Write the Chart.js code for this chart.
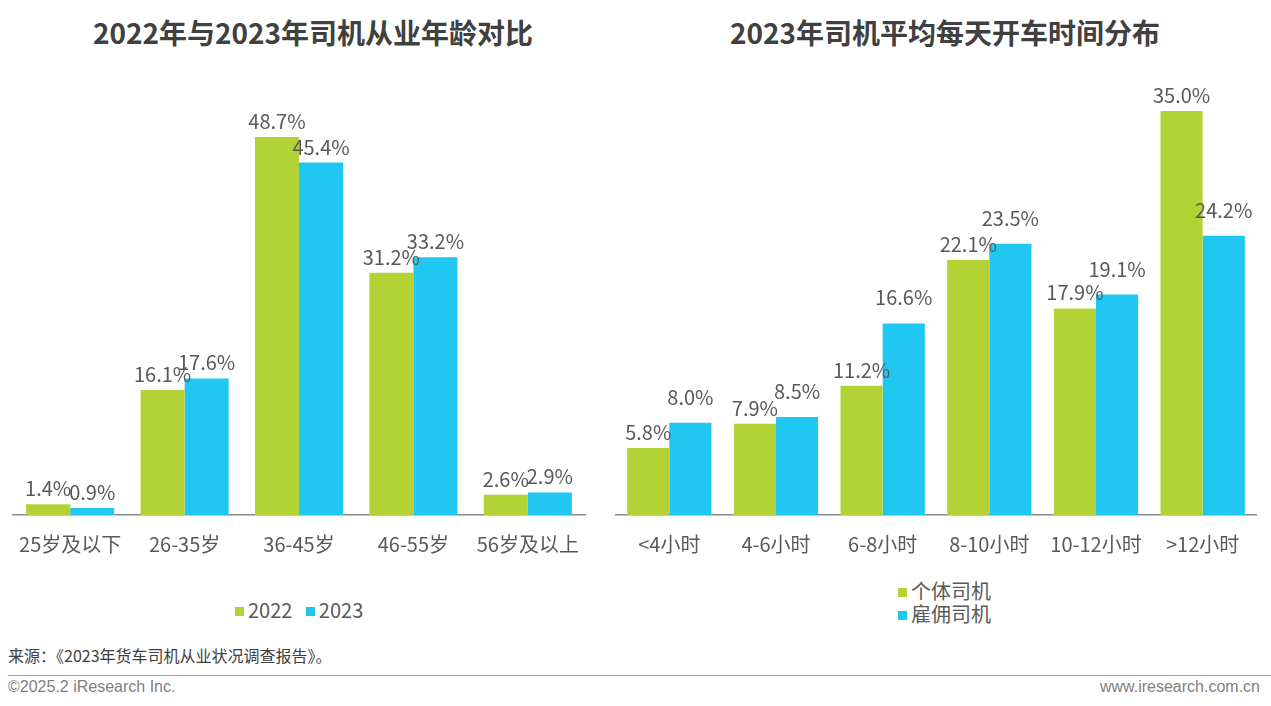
<!DOCTYPE html>
<html>
<head>
<meta charset="utf-8">
<script src="https://cdn.jsdelivr.net/npm/chart.js@4/dist/chart.umd.min.js"></script>
<style>
  html, body { margin:0; padding:0; background:#fff; }
  body { width:1271px; height:706px; position:relative; overflow:hidden; font-family:"Noto Sans CJK SC","Noto Sans",sans-serif; }
  .title { position:absolute; top:12px; font-size:28px; font-weight:bold; color:#404040; text-align:center; white-space:nowrap; }
  .cv { position:absolute; top:0; }
  .legend { position:absolute; font-size:20px; color:#595959; white-space:nowrap; line-height:23px; }
  .legend span.sw { display:inline-block; width:9px; height:9px; margin-right:4px; vertical-align:middle; position:relative; top:-1px; }
  .src { position:absolute; left:8px; top:643px; font-size:16px; color:#404040; }
  .rule { position:absolute; left:8px; right:0; top:675px; height:0; border-top:1.5px solid #a6a6a6; }
  .foot { position:absolute; top:678px; font-size:16px; color:#7f7f7f; font-family:"Liberation Sans",Arial,sans-serif; }
</style>
</head>
<body>
<div class="title" style="left:13px;width:600px;">2022年与2023年司机从业年龄对比</div>
<div class="title" style="left:630px;width:630px;">2023年司机平均每天开车时间分布</div>
<canvas id="c1" class="cv" style="left:0;" width="620" height="565"></canvas>
<canvas id="c2" class="cv" style="left:600px;" width="671" height="565"></canvas>
<div class="legend" style="left:235px;top:598px;"><span class="sw" style="background:#B2D235"></span>2022&nbsp;&nbsp;&nbsp;<span class="sw" style="background:#1FC7F1"></span>2023</div>
<div class="legend" style="left:898px;top:579px;"><span class="sw" style="background:#B2D235"></span>个体司机<br><span class="sw" style="background:#1FC7F1"></span>雇佣司机</div>
<div class="src">来源：《2023年货车司机从业状况调查报告》。</div>
<div class="rule"></div>
<div class="foot" style="left:8px;">©2025.2 iResearch Inc.</div>
<div class="foot" style="right:11px;">www.iresearch.com.cn</div>
<script>
const ageCategories = ["25岁及以下","26-35岁","36-45岁","46-55岁","56岁及以上"];
const age2022 = [1.4, 16.1, 48.7, 31.2, 2.6];
const age2023 = [0.9, 17.6, 45.4, 33.2, 2.9];
const hourCategories = ["<4小时","4-6小时","6-8小时","8-10小时","10-12小时",">12小时"];
const selfDrivers = [5.8, 7.9, 11.2, 22.1, 17.9, 35.0];
const hiredDrivers = [8.0, 8.5, 16.6, 23.5, 19.1, 24.2];

const GREEN = "#B2D235", BLUE = "#1FC7F1";
const FONT = '"Noto Sans CJK SC","Noto Sans",sans-serif';

const labelPlugin = {
  id: "barLabels",
  afterDatasetsDraw(chart) {
    const ctx = chart.ctx;
    ctx.save();
    ctx.font = "20px " + FONT;
    ctx.fillStyle = "#595959";
    ctx.textAlign = "center";
    ctx.textBaseline = "alphabetic";
    chart.data.datasets.forEach((ds, i) => {
      const meta = chart.getDatasetMeta(i);
      const off = ds.labelOffset || 8;
      meta.data.forEach((bar, j) => {
        ctx.fillText(ds.data[j].toFixed(1) + "%", bar.x, bar.y - off);
      });
    });
    ctx.restore();
  }
};

function makeChart(id, cats, sets, yMax, pad, catPct) {
  return new Chart(document.getElementById(id), {
    type: "bar",
    data: { labels: cats, datasets: sets },
    options: {
      responsive: false,
      animation: false,
      layout: { padding: pad },
      plugins: { legend: { display: false }, tooltip: { enabled: false } },
      datasets: { bar: { categoryPercentage: catPct, barPercentage: 1.0 } },
      scales: {
        x: {
          grid: { display: false, drawTicks: false },
          border: { display: true, color: "#8c8c8c", width: 1.5 },
          ticks: { color: "#595959", font: { size: 20, family: FONT }, padding: 17, maxRotation: 0, autoSkip: false },
          afterFit: (s) => { s.height = 50; }
        },
        y: { display: false, min: 0, max: yMax }
      }
    },
    plugins: [labelPlugin]
  });
}

makeChart("c1", ageCategories, [
  { label: "2022", data: age2022, backgroundColor: GREEN, labelOffset: 8 },
  { label: "2023", data: age2023, backgroundColor: BLUE, labelOffset: 8 }
], 56.04, { left: 13, right: 35, top: 80, bottom: 0 }, 0.77);

makeChart("c2", hourCategories, [
  { label: "个体司机", data: selfDrivers, backgroundColor: GREEN, labelOffset: 8 },
  { label: "雇佣司机", data: hiredDrivers, backgroundColor: BLUE, labelOffset: 18 }
], 37.69, { left: 16, right: 15, top: 80, bottom: 0 }, 0.79);
</script>
</body>
</html>
